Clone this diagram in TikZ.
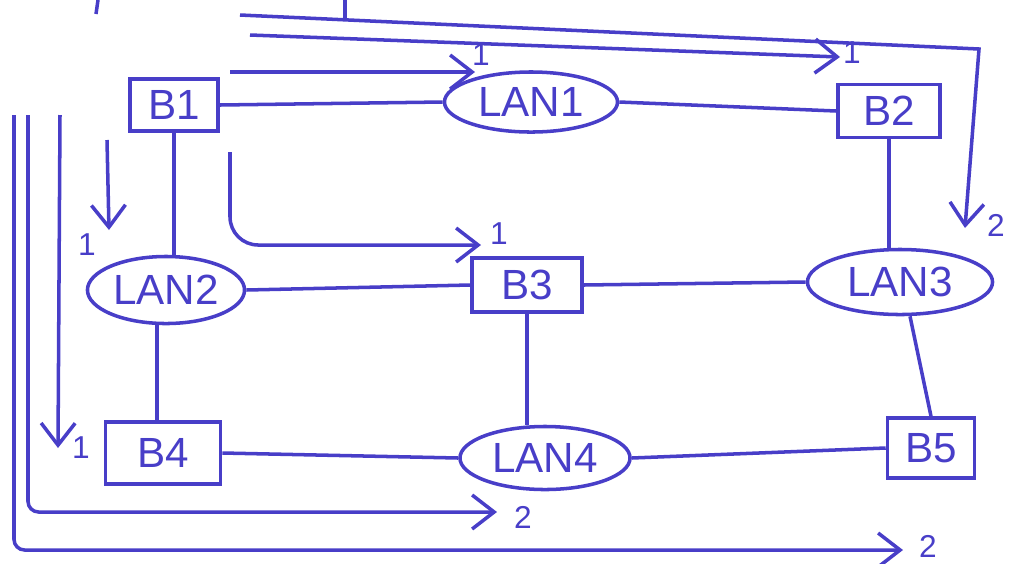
\documentclass[tikz,border=0pt]{standalone}
\usepackage{fontspec}
\setmainfont{Liberation Sans}
\usetikzlibrary{arrows.meta,shapes.geometric,positioning}
\definecolor{ink}{RGB}{72,62,200}
\tikzset{
  bridge/.style={draw=ink, rectangle, line width=1pt, minimum width=1cm, minimum height=0.55cm, text=ink, font=\large},
  lan/.style={draw=ink, ellipse, line width=1pt, minimum width=1.75cm, minimum height=0.64cm, inner sep=0pt, text=ink, font=\large},
  link/.style={draw=ink, line width=1pt},
  flow/.style={draw=ink, line width=1pt, -{Straight Barb[length=2.2mm,width=3.4mm]}, rounded corners=3pt},
  port/.style={text=ink, font=\small, inner sep=0pt}
}

\begin{document}
\begin{tikzpicture}[x=0.01cm, y=-0.01cm]
\useasboundingbox (0,0) rectangle (1021,563);

% bridges and LANs
\node[bridge, minimum width=0.88cm, minimum height=0.46cm] (b1) at (174,105) {B1};
\node[lan, minimum width=1.73cm, minimum height=0.60cm] (lan1) at (531,102) {LAN1};
\node[bridge, minimum width=1.02cm, minimum height=0.52cm] (b2) at (889,111) {B2};
\node[lan, minimum width=1.57cm, minimum height=0.67cm] (lan2) at (166,290) {LAN2};
\node[bridge, minimum width=1.10cm, minimum height=0.54cm] (b3) at (527,285) {B3};
\node[lan, minimum width=1.85cm, minimum height=0.65cm] (lan3) at (900,282) {LAN3};
\node[bridge, minimum width=1.15cm, minimum height=0.62cm] (b4) at (163,453) {B4};
\node[lan, minimum width=1.70cm, minimum height=0.63cm] (lan4) at (545,458) {LAN4};
\node[bridge, minimum width=0.87cm, minimum height=0.60cm] (b5) at (931,448) {B5};

% links
\draw[link] (b1.east) -- (lan1.west);
\draw[link] (lan1.east) -- (b2.west);
\draw[link] (b1.south) -- (b1.south |- lan2.north);
\draw[link] (b2.south) -- (b2.south |- lan3.north);
\draw[link] (lan2.east) -- (b3.west);
\draw[link] (b3.east) -- (lan3.west);
\draw[link] ([xshift=-0.09cm]lan2.south) -- ([xshift=-0.09cm]lan2.south |- b4.north);
\draw[link] (b3.south) -- (b3.south |- lan4.north);
\draw[link] ([xshift=0.1cm]lan3.south) -- (b5.north);
\draw[link] (b4.east) -- (lan4.west);
\draw[link] (lan4.east) -- (b5.west);

% frame flows
\coordinate (f1s) at (230,72);   \coordinate (f1e) at (475,72);
\coordinate (f2s) at (250,35);   \coordinate (f2e) at (840,57);
\coordinate (f3s) at (240,15);   \coordinate (f3c) at (979,49);   \coordinate (f3e) at (965,228);
\coordinate (f4s) at (230,152);  \coordinate (f4e) at (481,245);
\coordinate (f5s) at (107,140);  \coordinate (f5e) at (109,230);
\coordinate (f6s) at (60,115);   \coordinate (f6e) at (58,448);
\coordinate (f7s) at (28,115);   \coordinate (f7e) at (497,512);
\coordinate (f8s) at (14,115);   \coordinate (f8e) at (903,550);
\coordinate (t1) at (345,0);     \coordinate (t2) at (98,0);

\draw[flow] (f1s) -- (f1e) node[port, shift={(6,-17)}] {1};
\draw[flow] (f2s) -- (f2e) node[port, shift={(12,-4)}] {1};
\draw[flow, sharp corners] (f3s) -- (f3c) -- (f3e) node[port, shift={(31,-3)}] {2};
\draw[flow, rounded corners=8pt] (f4s) |- (f4e) node[port, shift={(18,-11)}] {1};
\draw[flow] (f5s) -- (f5e) node[port, shift={(-22,15)}] {1};
\draw[flow] (f6s) -- (f6e) node[port, shift={(23,0)}] {1};
\draw[flow] (f7s) |- (f7e) node[port, shift={(26,5)}] {2};
\draw[flow] (f8s) |- (f8e) node[port, shift={(25,-4)}] {2};
\draw[link] (t1) -- ++(0,18);
\draw[link] (t2) -- ++(-2,14);
\end{tikzpicture}
\end{document}
